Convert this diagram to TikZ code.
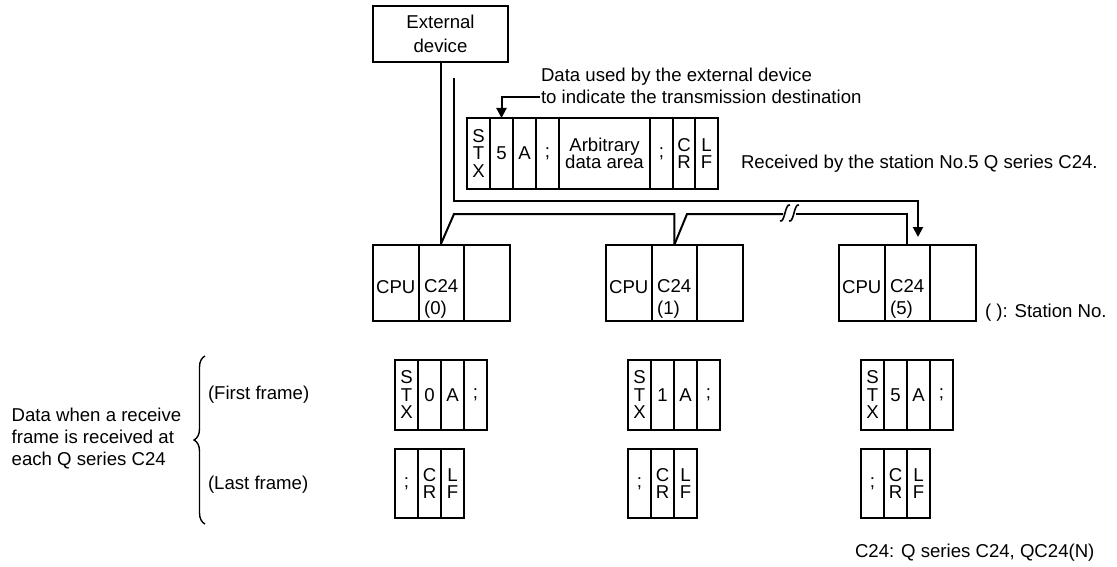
\documentclass[tikz,border=0pt]{standalone}
\usepackage{fontspec}
\setmainfont{Liberation Sans}
\usetikzlibrary{positioning}
\usetikzlibrary{calc}
\usetikzlibrary{arrows.meta}
\usetikzlibrary{decorations.pathreplacing}

\begin{document}
\begin{tikzpicture}[x=1pt, y=-1pt, line width=2pt,
  every node/.style={font=\fontsize{18.6}{22}\selectfont, inner sep=0pt, outer sep=0pt},
  cell/.style={draw, minimum height=71pt, minimum width=23pt, align=center,
    font=\fontsize{18.6}{17.5}\selectfont},
  unit/.style={draw, minimum width=45.5pt, minimum height=76pt},
  tip/.style={-{Triangle[length=10pt, width=10pt]}},
  node distance=0pt]

\useasboundingbox (0,0) rectangle (1117,567);

%---------------------------------------
% External device and the sent frame
%---------------------------------------
\node[draw, minimum width=135pt, minimum height=56pt, align=center,
  font=\fontsize{18.6}{24}\selectfont] (ext) at (440.5,34) {External\\device};

\node[cell] (tstx) at (478.5,153.5) {S\\T\\X};
\node[cell, right=of tstx] (tfive) {5};
\node[cell, right=of tfive] (ta) {A};
\node[cell, right=of ta] (tsemi) {;};
\node[cell, right=of tsemi, minimum width=91pt] (tarb) {Arbitrary\\data area};
\node[cell, right=of tarb] (tsemib) {;};
\node[cell, right=of tsemib, minimum width=22pt] (tcr) {C\\R};
\node[cell, right=of tcr] (tlf) {L\\F};

% Note on the station number
\node[align=left, anchor=west] (note) at (541,86)
  {Data used by the external device\\to indicate the transmission destination};
\coordinate (nstart) at (540,97);
\draw[tip] (nstart) -| (tfive.north);

\node[anchor=west] (recv) at (741,164) {Received by the station No.5 Q series C24.};

%---------------------------------------
% Stations and received frames
%---------------------------------------
\foreach \i/\n in {0/0,1/1,2/5} {
  \pgfmathsetmacro\xs{373+233*\i}
  \node[unit] (cpu\i) at (\xs+22.75,283) {};
  \node[unit, right=of cpu\i] (ctl\i) {};
  \node[unit, right=of ctl\i] (blank\i) {};
  \node (cpulab\i) at ($(cpu\i)+(0,4)$) {CPU};
  \node[align=left] (ctllab\i) at ($(ctl\i)+(0,16)$) {C24\\(\n)};

  % first frame
  \node[cell, minimum height=70pt] (fstx\i) at (\xs+33.5,395) {S\\T\\X};
  \node[cell, minimum height=70pt, right=of fstx\i] (fnum\i) {\n};
  \node[cell, minimum height=70pt, right=of fnum\i] (fa\i) {A};
  \node[cell, minimum height=70pt, right=of fa\i] (fsemi\i) {;};
  % last frame
  \node[cell, minimum height=69pt] (lsemi\i) at (\xs+33.5,483.5) {;};
  \node[cell, minimum height=69pt, right=of lsemi\i] (lcr\i) {C\\R};
  \node[cell, minimum height=69pt, right=of lcr\i] (llf\i) {L\\F};
}

\node[anchor=west] (station) at (985,313) {( ): Station No.};

%---------------------------------------
% Network line
%---------------------------------------
\coordinate (bus0) at (454,214);
\coordinate (bus1) at (687,214);
\coordinate (gapl) at (783,214);
\coordinate (gapr) at (796,214);
\draw (ext.south) -- (ext.south |- ctl0.north);
\draw (ext.south |- ctl0.north) -- (bus0) -| (ctl1.north);
\draw (ctl1.north) -- (bus1) -- (gapl);
\draw (gapr) -| (ctl2.north);
% break marks
\foreach \x in {785,794}
  \draw[line width=1.6pt] (\x-5,221) .. controls (\x,223) and (\x,203) .. (\x+5,205);

% Data sent to station 5
\coordinate (dtop) at (454,78);
\coordinate (dturn) at (918,201);
\coordinate (dend) at (918,237);
\draw[tip] (dtop) |- (dturn) -- (dend);

%---------------------------------------
% Left labels
%---------------------------------------
\coordinate (bbot) at (205,524);
\coordinate (btop) at (205,356);
\draw[decorate, decoration={brace, amplitude=11pt}, line width=1.4pt] (bbot) -- (btop);

\node[anchor=west] (first) at (208,395) {(First frame)};
\node[anchor=west] (last) at (208,485) {(Last frame)};
\node[anchor=west, align=left] (recvdata) at (11.7,439)
  {Data when a receive\\frame is received at\\each Q series C24};

\node[anchor=west] (legend) at (855,553) {C24: Q series C24, QC24(N)};

\end{tikzpicture}
\end{document}
